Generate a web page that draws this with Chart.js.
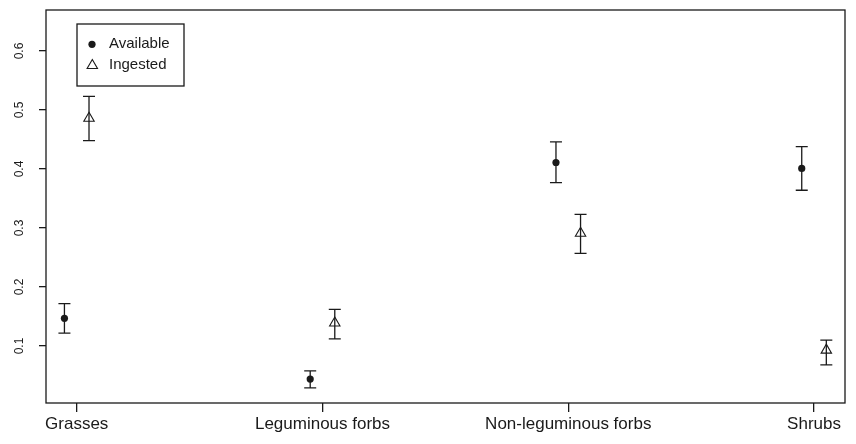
<!DOCTYPE html>
<html lang="en">
<head>
	<meta charset="UTF-8" />
	<title>Available vs ingested</title>
	<script src="https://cdn.jsdelivr.net/npm/chart.js@4.4.1/dist/chart.umd.min.js"></script>
	<style>
		html, body { margin: 0; padding: 0; background: #fff; }
		#wrap { position: relative; width: 856px; height: 444px; }
	</style>
</head>
<body>
	<div id="wrap">
		<canvas id="myChart" width="856" height="444"></canvas>
	</div>
<script>
	// data
	const categories = ['Grasses', 'Leguminous forbs', 'Non-leguminous forbs', 'Shrubs'];
	const availMean = [0.147, 0.044, 0.411, 0.401];
	const availLow  = [0.122, 0.029, 0.377, 0.364];
	const availHigh = [0.172, 0.058, 0.446, 0.438];
	const ingMean = [0.486, 0.139, 0.291, 0.093];
	const ingLow  = [0.448, 0.112, 0.257, 0.068];
	const ingHigh = [0.523, 0.162, 0.323, 0.110];
	const yTicks = [0.1, 0.2, 0.3, 0.4, 0.5, 0.6];
	const offset = 0.05;

	const ink = '#1a1a1a';
	const fontFam = '"Liberation Sans", Arial, sans-serif';

	function pts(means, shift) {
		return means.map((v, i) => ({ x: i + 1 + shift, y: v }));
	}

	// error bars + box round the plot
	const errorBars = {
		id: 'errorBars',
		afterDatasetsDraw(chart) {
			const ctx = chart.ctx;
			const xs = chart.scales.x, ys = chart.scales.y;
			const a = chart.chartArea;
			ctx.save();
			ctx.strokeStyle = ink;
			ctx.lineWidth = 1.3;
			ctx.strokeRect(a.left, a.top, a.right - a.left, a.bottom - a.top);
			const sets = [[availLow, availHigh, -offset], [ingLow, ingHigh, offset]];
			sets.forEach(([lo, hi, sh]) => {
				lo.forEach((l, i) => {
					const px = xs.getPixelForValue(i + 1 + sh);
					const y1 = ys.getPixelForValue(l);
					const y2 = ys.getPixelForValue(hi[i]);
					ctx.beginPath();
					ctx.moveTo(px, y1); ctx.lineTo(px, y2);
					ctx.moveTo(px - 6, y1); ctx.lineTo(px + 6, y1);
					ctx.moveTo(px - 6, y2); ctx.lineTo(px + 6, y2);
					ctx.stroke();
				});
			});
			ctx.restore();
		}
	};

	// R style legend inside the plot
	const boxLegend = {
		id: 'boxLegend',
		afterDraw(chart) {
			const ctx = chart.ctx;
			ctx.save();
			ctx.strokeStyle = ink;
			ctx.lineWidth = 1.3;
			ctx.strokeRect(77, 24, 107, 62);
			ctx.fillStyle = ink;
			ctx.font = '15px ' + fontFam;
			ctx.textBaseline = 'middle';
			ctx.textAlign = 'left';
			const ds = chart.data.datasets;
			ctx.fillText(ds[0].label, 109, 44);
			ctx.fillText(ds[1].label, 109, 64.5);
			ctx.beginPath();
			ctx.arc(92, 44.3, 3.6, 0, Math.PI * 2);
			ctx.fill();
			ctx.beginPath();
			ctx.lineWidth = 1.1;
			ctx.moveTo(92.3, 59.5);
			ctx.lineTo(97.5, 68.5);
			ctx.lineTo(87.1, 68.5);
			ctx.closePath();
			ctx.stroke();
			ctx.restore();
		}
	};

	const ctx = document.getElementById('myChart').getContext('2d');
	const chart = new Chart(ctx, {
		type: 'scatter',
		data: {
			datasets: [{
				label: 'Available',
				data: pts(availMean, -offset),
				pointStyle: 'circle',
				pointRadius: 3.6,
				backgroundColor: ink,
				borderColor: ink,
				borderWidth: 0
			}, {
				label: 'Ingested',
				data: pts(ingMean, offset),
				pointStyle: 'triangle',
				pointRadius: 6,
				backgroundColor: 'rgba(255,255,255,0)',
				borderColor: ink,
				borderWidth: 1.1
			}]
		},
		options: {
			responsive: false,
			animation: false,
			layout: { padding: { top: 10, right: 11, left: 0, bottom: 0 } },
			plugins: { legend: { display: false }, tooltip: { enabled: false } },
			scales: {
				x: {
					type: 'linear',
					min: 0.875,
					max: 4.126,
					afterBuildTicks: s => { s.ticks = categories.map((c, i) => ({ value: i + 1 })); },
					afterFit: s => { s.height = 41; s.paddingLeft = 0; s.paddingRight = 0; },
					grid: { drawOnChartArea: false, drawTicks: true, tickLength: 9, color: ink, lineWidth: 1.3 },
					border: { display: false },
					ticks: {
						color: ink,
						padding: 2,
						maxRotation: 0,
						autoSkip: false,
						font: { family: fontFam, size: 17 },
						callback: (v, i) => categories[i]
					}
				},
				y: {
					min: 0.0034,
					max: 0.6695,
					afterBuildTicks: s => { s.ticks = yTicks.map(v => ({ value: v })); },
					afterFit: s => { s.width = 46; s.paddingTop = 0; s.paddingBottom = 0; },
					grid: { drawOnChartArea: false, drawTicks: true, tickLength: 7, color: ink, lineWidth: 1.3 },
					border: { display: false },
					ticks: {
						color: ink,
						padding: 11,
						minRotation: 90,
						maxRotation: 90,
						crossAlign: 'center',
						font: { family: fontFam, size: 12 },
						callback: v => v.toFixed(1)
					}
				}
			}
		},
		plugins: [errorBars, boxLegend]
	});
</script>
</body>
</html>
